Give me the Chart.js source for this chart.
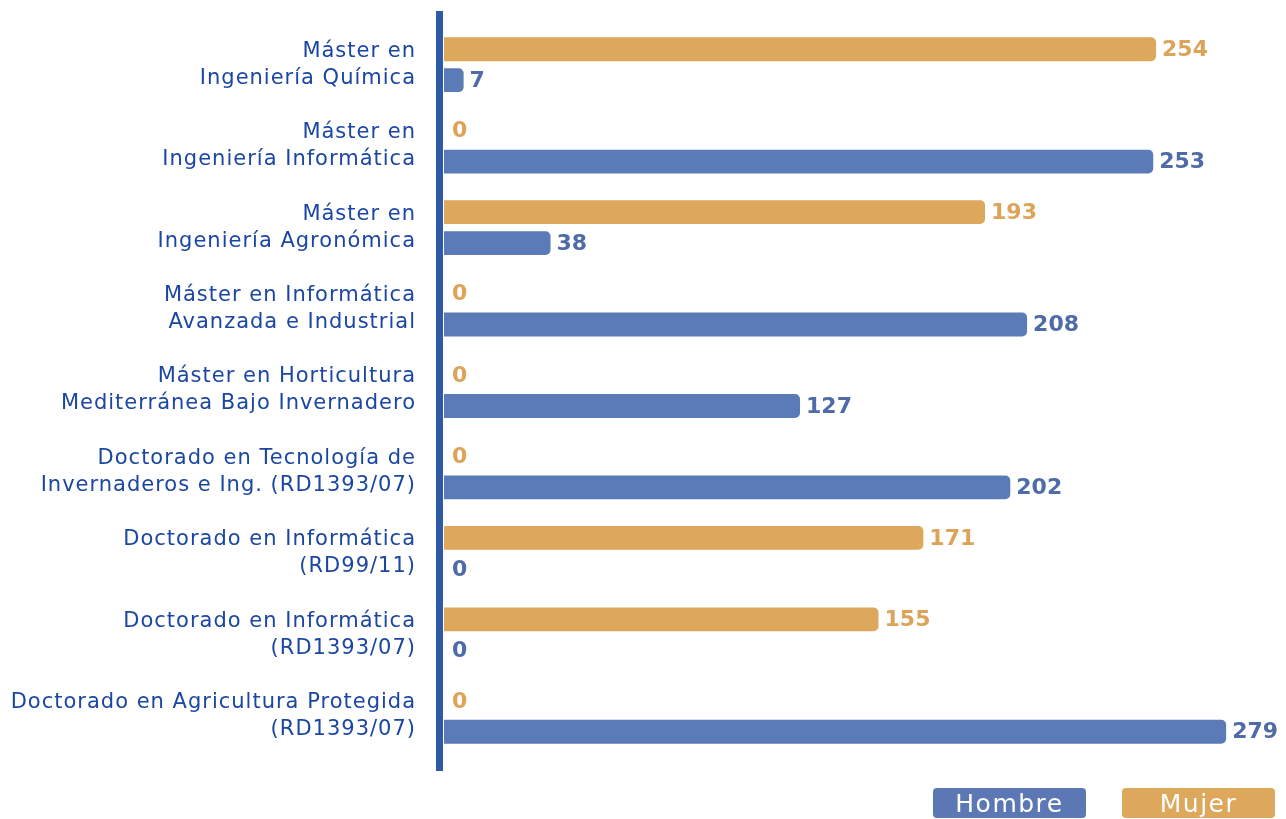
<!DOCTYPE html>
<html>
<head>
<meta charset="utf-8">
<script src="https://cdn.jsdelivr.net/npm/chart.js@4.4.0/dist/chart.umd.min.js"></script>
<style>
  body { margin: 0; background: #fff; }
  #wrap { position: relative; width: 1286px; height: 819px; }
  canvas { display: block; }
  .legend { position: absolute; top: 788px; height: 30px; width: 153px; border-radius: 4px;
            color: #fff; font: 500 25px "DejaVu Sans", sans-serif; letter-spacing: 1.5px;
            text-align: center; line-height: 31px; }
</style>
</head>
<body>
<div id="wrap">
  <canvas id="js--chart" width="1286" height="819"></canvas>
  <div class="legend" style="left:933px;background:#5b78b5;">Hombre</div>
  <div class="legend" style="left:1122px;background:#dda75c;">Mujer</div>
</div>
<script>
const categories = [
    ["Máster en", "Ingeniería Química"],
    ["Máster en", "Ingeniería Informática"],
    ["Máster en", "Ingeniería Agronómica"],
    ["Máster en Informática", "Avanzada e Industrial"],
    ["Máster en Horticultura", "Mediterránea Bajo Invernadero"],
    ["Doctorado en Tecnología de", "Invernaderos e Ing. (RD1393/07)"],
    ["Doctorado en Informática", "(RD99/11)"],
    ["Doctorado en Informática", "(RD1393/07)"],
    ["Doctorado en Agricultura Protegida", "(RD1393/07)"]
];
const mujer = [254, 0, 193, 0, 0, 0, 171, 155, 0];
const hombre = [7, 253, 38, 208, 127, 202, 0, 0, 279];

const orange = '#dda85c';
const blue = '#5b7bb8';

// the original font is widely tracked, so space the letters out a bit
const tracking = {
    id: 'tracking',
    beforeLayout(chart) { chart.ctx.letterSpacing = '1px'; },
    beforeDraw(chart) { chart.ctx.letterSpacing = '1px'; }
};

// thick axis line + value labels
const extras = {
    id: 'extras',
    afterDatasetsDraw(chart) {
        const c = chart.ctx;
        const area = chart.chartArea;
        c.save();
        c.fillStyle = '#2f5aa8';
        c.fillRect(area.left - 8, 11, 7, 760);

        c.letterSpacing = '0px';
        c.font = 'bold 22px "DejaVu Sans", sans-serif';
        c.textBaseline = 'middle';
        c.textAlign = 'left';
        chart.data.datasets.forEach((ds, di) => {
            const meta = chart.getDatasetMeta(di);
            c.fillStyle = di === 0 ? '#dca459' : '#4f6ba8';
            meta.data.forEach((bar, i) => {
                const x = ds.data[i] === 0 ? area.left + 8 : bar.x + 6;
                c.fillText(ds.data[i], x, bar.y + 1);
            });
        });
        c.restore();
    }
};

const chart = new Chart(document.getElementById("js--chart").getContext("2d"), {
    type: 'bar',
    data: {
        labels: categories,
        datasets: [{
            label: 'Mujer',
            data: mujer,
            backgroundColor: orange,
            borderRadius: 5,
            borderSkipped: 'start',
            categoryPercentage: 0.76,
            barPercentage: 0.77
        }, {
            label: 'Hombre',
            data: hombre,
            backgroundColor: blue,
            borderRadius: 5,
            borderSkipped: 'start',
            categoryPercentage: 0.76,
            barPercentage: 0.77
        }]
    },
    options: {
        indexAxis: 'y',
        responsive: false,
        animation: false,
        layout: { padding: { top: 24, bottom: 62, right: 1 } },
        plugins: {
            legend: { display: false },
            tooltip: { enabled: false }
        },
        scales: {
            x: {
                display: false,
                min: 0,
                max: 300
            },
            y: {
                grid: { display: false, drawTicks: false },
                border: { display: false },
                ticks: {
                    color: '#1b47a3',
                    padding: 28,
                    font: { family: '"DejaVu Sans", sans-serif', size: 21, lineHeight: 1.29 }
                },
                afterFit(scale) {
                    scale.width = 444;
                    scale.paddingTop = 0;
                    scale.paddingBottom = 0;
                }
            }
        }
    },
    plugins: [tracking, extras]
});
</script>
</body>
</html>
